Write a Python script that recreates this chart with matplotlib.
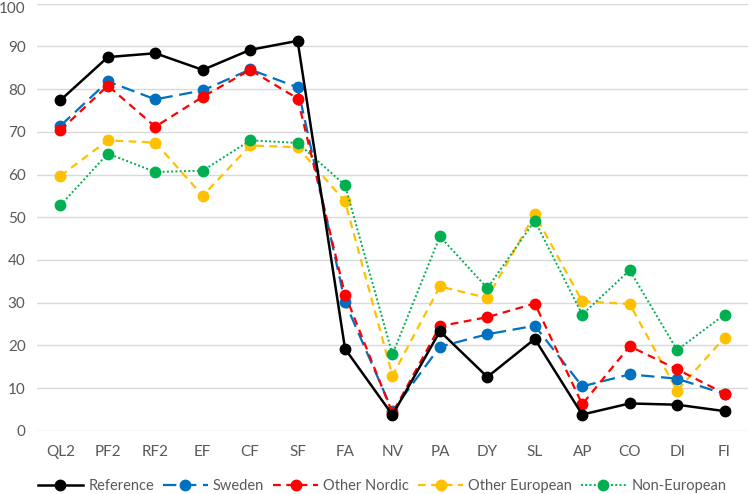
import matplotlib
matplotlib.use("Agg")
import matplotlib.pyplot as plt
from matplotlib.transforms import ScaledTranslation

categories = ["QL2", "PF2", "RF2", "EF", "CF", "SF", "FA", "NV", "PA", "DY", "SL", "AP", "CO", "DI", "FI"]
reference = [77.4, 87.5, 88.4, 84.5, 89.2, 91.3, 19.2, 3.7, 23.3, 12.6, 21.5, 3.8, 6.4, 6.1, 4.6]
sweden = [71.4, 81.8, 77.6, 79.7, 84.6, 80.4, 30.1, 4.6, 19.7, 22.6, 24.6, 10.4, 13.2, 12.2, 8.6]
other_nordic = [70.4, 80.8, 71.2, 78.2, 84.5, 77.8, 31.9, 4.1, 24.5, 26.6, 29.8, 6.2, 19.8, 14.4, 8.7]
other_european = [59.7, 68.0, 67.5, 55.0, 66.8, 66.4, 53.7, 12.9, 33.8, 31.1, 50.7, 30.3, 29.7, 9.4, 21.8]
non_european = [52.8, 64.9, 60.6, 60.9, 68.0, 67.4, 57.5, 17.9, 45.5, 33.4, 49.2, 27.2, 37.6, 18.9, 27.2]
yticks = [0, 10, 20, 30, 40, 50, 60, 70, 80, 90, 100]

plt.rcParams['font.family'] = ['Lato', 'DejaVu Sans']

fig = plt.figure(figsize=(7.49, 4.94), dpi=100)
ax = fig.add_axes([0.049, 0.128, 0.95, 0.8645])

x = list(range(len(categories)))
ms = 7.5
ax.plot(x, reference, color='black', lw=1.8, marker='o', ms=ms, label='Reference', zorder=5)
ax.plot(x, sweden, color='#0070C0', lw=1.6, ls=(0, (6, 3)), marker='o', ms=ms, label='Sweden', zorder=4)
ax.plot(x, other_nordic, color='#FF0000', lw=1.6, ls=(0, (3.5, 2.5)), marker='o', ms=ms, label='Other Nordic', zorder=4)
ax.plot(x, other_european, color='#FFC000', lw=1.6, ls=(0, (3.5, 2.5)), marker='o', ms=ms, label='Other European', zorder=3)
ax.plot(x, non_european, color='#00B050', lw=1.4, ls=(0, (1, 1.2)), marker='o', ms=ms, label='Non-European', zorder=3)

ax.set_xlim(-0.5, len(categories) - 0.5)
ax.set_ylim(0, 100)
ax.set_yticks(yticks)
ax.set_xticks(x)
ax.set_xticklabels(categories)
ax.grid(axis='y', color='#d9d9d9', lw=1)
ax.set_axisbelow(True)
for s in ax.spines.values():
    s.set_visible(False)
ax.tick_params(axis='both', length=0, labelsize=11, labelcolor='#595959')
ax.tick_params(axis='x', pad=10)
ax.tick_params(axis='y', pad=8)

top_label = ax.yaxis.get_major_ticks()[-1].label1
top_label.set_transform(top_label.get_transform() + ScaledTranslation(0, -3 / 72, fig.dpi_scale_trans))

fig.legend(loc='center', bbox_to_anchor=(0.51, 0.016), ncol=5, frameon=False,
           fontsize=10.5, handlelength=3.1, columnspacing=0.6, handletextpad=0.35,
           labelcolor='#595959', borderpad=0, borderaxespad=0)

fig.savefig('out.png', dpi=100)
